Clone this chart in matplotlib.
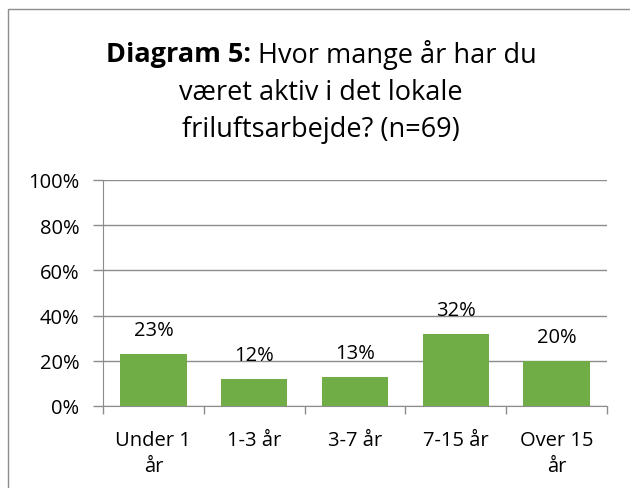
import matplotlib
matplotlib.use("Agg")
import matplotlib.pyplot as plt
from matplotlib.patches import Rectangle

categories = ["Under 1\når", "1-3 år", "3-7 år", "7-15 år", "Over 15\når"]
values = [23, 12, 13, 32, 20]
value_labels = ["23%", "12%", "13%", "32%", "20%"]
yticks = [0, 20, 40, 60, 80, 100]
ytick_labels = ["0%", "20%", "40%", "60%", "80%", "100%"]

FONT = "Open Sans"
W, H = 630, 489
fig = plt.figure(figsize=(W / 100, H / 100), dpi=100)

# outer chart border
fig.add_artist(Rectangle((8 / W, -0.05), 1.2, 1 - 10 / H + 0.05, transform=fig.transFigure,
                         fill=False, edgecolor="#8c8c8c", linewidth=1.0))

ax = fig.add_axes([103 / W, 1 - 407 / H, (607 - 103) / W, (407 - 181) / H])
x = list(range(len(categories)))
bars = ax.bar(x, values, width=0.66, color="#70AD47", zorder=3)
ax.set_xlim(-0.5, len(categories) - 0.5)
ax.set_ylim(0, 100)
ax.set_yticks(yticks)
fs = 14.5
ax.set_yticklabels(ytick_labels, fontsize=fs, family=FONT)
ax.set_xticks(x)
ax.set_xticklabels(categories, fontsize=fs, family=FONT, linespacing=1.4)
ax.set_xticks([i - 0.5 for i in range(len(categories) + 1)], minor=True)
ax.tick_params(axis="x", which="major", length=0, pad=17)
ax.tick_params(axis="x", which="minor", length=6, color="#8c8c8c", width=1)
ax.tick_params(axis="y", length=7, color="#8c8c8c", width=1, pad=10)
for lab in ax.get_xticklabels():
    lab.set_verticalalignment("top")
ax.grid(axis="y", color="#8c8c8c", linewidth=1, zorder=0)
for s in ["top", "right"]:
    ax.spines[s].set_visible(False)
ax.spines["left"].set_color("#8c8c8c")
ax.spines["bottom"].set_color("#8c8c8c")

for xi, v, lab in zip(x, values, value_labels):
    ax.annotate(lab, (xi, v), xytext=(0, 17), textcoords="offset points",
                ha="center", va="center", fontsize=fs, family=FONT, zorder=4)

# title
fig.canvas.draw()
r = fig.canvas.get_renderer()
tsize = 19.5
cx = 321 / W
y1 = 1 - 55 / H
t_b = fig.text(0, y1, "Diagram 5:", fontsize=tsize, fontweight="bold", family=FONT, va="center")
t_n = fig.text(0, y1, " Hvor mange år har du", fontsize=tsize, family=FONT, va="center")
wb = t_b.get_window_extent(r).width / W
wn = t_n.get_window_extent(r).width / W
x0 = cx - (wb + wn) / 2
t_b.set_x(x0)
t_n.set_x(x0 + wb)
fig.text(cx, 1 - 93 / H, "været aktiv i det lokale", fontsize=tsize, family=FONT, ha="center", va="center")
fig.text(cx, 1 - 130 / H, "friluftsarbejde? (n=69)", fontsize=tsize, family=FONT, ha="center", va="center")

fig.savefig("out.png", dpi=100)
